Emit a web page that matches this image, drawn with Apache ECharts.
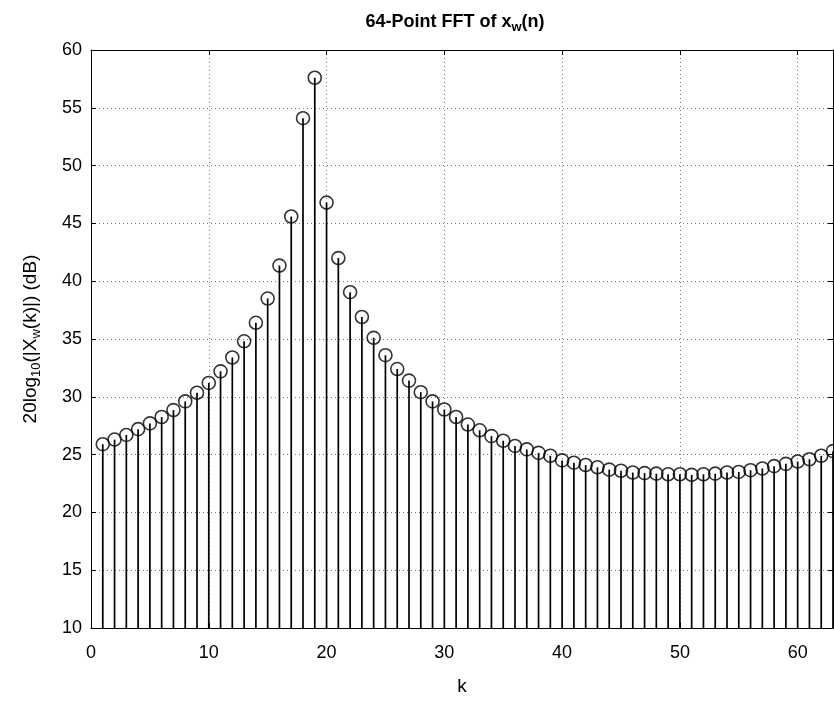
<!DOCTYPE html>
<html>
<head>
<meta charset="utf-8">
<script src="https://cdn.jsdelivr.net/npm/echarts@6/dist/echarts.min.js"></script>
<style>
html,body{margin:0;padding:0;background:#fff;}
#chart{width:834px;height:701px;}
</style>
</head>
<body>
<div id="chart"></div>
<script>
// bin index k
var kValues = [1,2,3,4,5,6,7,8,9,10,11,12,13,14,15,16,17,18,19,20,21,22,23,24,25,26,27,28,29,30,31,32,33,34,35,36,37,38,39,40,41,42,43,44,45,46,47,48,49,50,51,52,53,54,55,56,57,58,59,60,61,62,63];
// 20log10(|Xw(k)|) in dB
var magnitudeDb = [25.9,26.3,26.7,27.2,27.7,28.25,28.85,29.6,30.35,31.2,32.2,33.4,34.8,36.4,38.5,41.35,45.6,54.1,57.6,46.8,42.0,39.05,36.9,35.1,33.6,32.4,31.4,30.4,29.6,28.9,28.25,27.6,27.1,26.6,26.2,25.75,25.45,25.15,24.9,24.5,24.3,24.1,23.9,23.7,23.6,23.45,23.4,23.35,23.3,23.3,23.25,23.3,23.35,23.45,23.5,23.65,23.8,24.0,24.2,24.4,24.6,24.9,25.3];
var xMin = 0, xMax = 63, xStep = 10;
var yMin = 10, yMax = 60, yStep = 5;

var points = kValues.map(function(k, i){ return [k, magnitudeDb[i]]; });

var FONT = '"Liberation Sans", Arial, sans-serif';
var chart = echarts.init(document.getElementById('chart'));

var gridLine = {show:true, lineStyle:{color:'#777', type:[1,3], width:1}};
var axisLine = {show:true, onZero:false, lineStyle:{color:'#000', width:1}};
var tick = {show:true, inside:true, length:5, lineStyle:{color:'#000'}};

chart.setOption({
  animation:false,
  backgroundColor:'#fff',
  title:{
    text:'{n|64-Point FFT of x}{s|w}{n|(n)}',
    left:450, top:5, textAlign:'center',
    textStyle:{
      rich:{
        n:{fontFamily:FONT, fontSize:18, fontWeight:'bold', color:'#000', lineHeight:24, verticalAlign:'middle'},
        s:{fontFamily:FONT, fontSize:13, fontWeight:'bold', color:'#000', padding:[12,0,0,0], verticalAlign:'bottom', lineHeight:13}
      }
    }
  },
  grid:{left:91, right:1, top:50, bottom:70, containLabel:false},
  xAxis:[{
    type:'value', min:xMin, max:xMax, interval:xStep,
    name:'k', nameLocation:'middle', nameGap:49,
    nameTextStyle:{fontFamily:FONT, fontSize:19, color:'#000'},
    axisLine:axisLine, axisTick:tick, splitLine:gridLine,
    axisLabel:{fontFamily:FONT, fontSize:18, color:'#000', margin:16, showMaxLabel:false}
  },{
    type:'value', min:xMin, max:xMax, interval:xStep, position:'top',
    axisLine:axisLine, axisTick:tick, splitLine:{show:false}, axisLabel:{show:false}
  }],
  yAxis:[{
    type:'value', min:yMin, max:yMax, interval:yStep,
    name:'{n|20log}{s|10}{n|(|X}{s|w}{n|(k)|) (dB)}', nameLocation:'middle', nameGap:48, nameRotate:90,
    nameTextStyle:{
      rich:{
        n:{fontFamily:FONT, fontSize:19, color:'#000', lineHeight:24, verticalAlign:'middle'},
        s:{fontFamily:FONT, fontSize:13, color:'#000', padding:[12,0,0,0], verticalAlign:'bottom', lineHeight:13}
      }
    },
    axisLine:axisLine, axisTick:tick, splitLine:gridLine,
    axisLabel:{fontFamily:FONT, fontSize:18, color:'#000', margin:9}
  },{
    type:'value', min:yMin, max:yMax, interval:yStep, position:'right',
    axisLine:axisLine, axisTick:tick, splitLine:{show:false}, axisLabel:{show:false}
  }],
  series:[{
    type:'custom',
    xAxisIndex:0, yAxisIndex:0,
    data:points,
    clip:true,
    renderItem:function(params, api){
      var top = api.coord([api.value(0), api.value(1)]);
      var base = api.coord([api.value(0), yMin]);
      return {type:'line', shape:{x1:top[0], y1:top[1], x2:base[0], y2:base[1]},
              style:{stroke:'#000', lineWidth:1.7}};
    }
  },{
    type:'scatter',
    xAxisIndex:0, yAxisIndex:0,
    data:points,
    clip:false,
    symbol:'circle', symbolSize:13,
    itemStyle:{color:'rgba(255,255,255,0)', borderColor:'#000', borderWidth:1.6},
    z:3
  }]
});
</script>
</body>
</html>
